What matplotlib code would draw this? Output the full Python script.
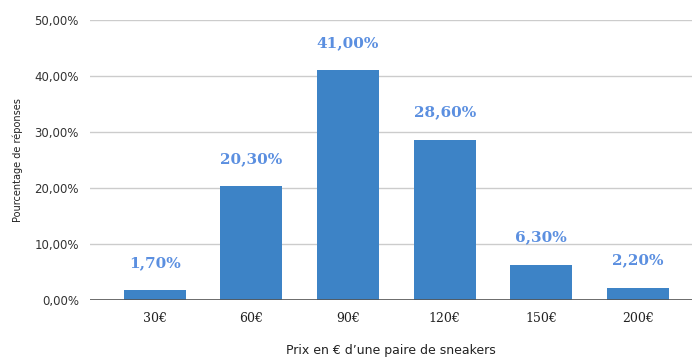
import matplotlib.pyplot as plt
from matplotlib.ticker import FuncFormatter

# Data
categories = ['30€', '60€', '90€', '120€', '150€', '200€']
values = [1.70, 20.30, 41.00, 28.60, 6.30, 2.20]
labels = ['1,70%', '20,30%', '41,00%', '28,60%', '6,30%', '2,20%']

fig = plt.figure(figsize=(6.92, 3.61), dpi=100)
ax = fig.add_axes([90 / 692, 61 / 361, 602 / 692, 280 / 361])

x = range(len(categories))
bars = ax.bar(x, values, width=0.64, color='#3d83c6', zorder=3)

for xi, v, lab in zip(x, values, labels):
    ax.text(xi, v + 4.9, lab, ha='center', va='center', color='#5b8fe0',
            fontsize=11, fontweight='bold', family='DejaVu Serif')

ax.set_ylim(0, 50)
ax.set_xlim(-0.67, 5.56)
ax.set_yticks([0, 10, 20, 30, 40, 50])
ax.yaxis.set_major_formatter(FuncFormatter(lambda v, p: f'{v:.2f}%'.replace('.', ',')))
ax.grid(axis='y', color='#cccccc', linewidth=1, zorder=0)
ax.axhline(0, color='#555555', linewidth=1.2, zorder=4)

ax.set_xticks(list(x))
ax.set_xticklabels(categories, family='DejaVu Serif', fontsize=9, color='#222222')
for lab in ax.get_yticklabels():
    lab.set_fontsize(8.5)
    lab.set_color('#333333')
ax.tick_params(axis='both', length=0)
ax.tick_params(axis='x', pad=9)
ax.tick_params(axis='y', pad=8)

for s in ax.spines.values():
    s.set_visible(False)

ax.set_xlabel("Prix en € d’une paire de sneakers", fontsize=9, color='#222222', labelpad=13)
ax.set_ylabel('Pourcentage de réponses', fontsize=7, color='#222222', labelpad=8)

plt.savefig('out.png', dpi=100)
